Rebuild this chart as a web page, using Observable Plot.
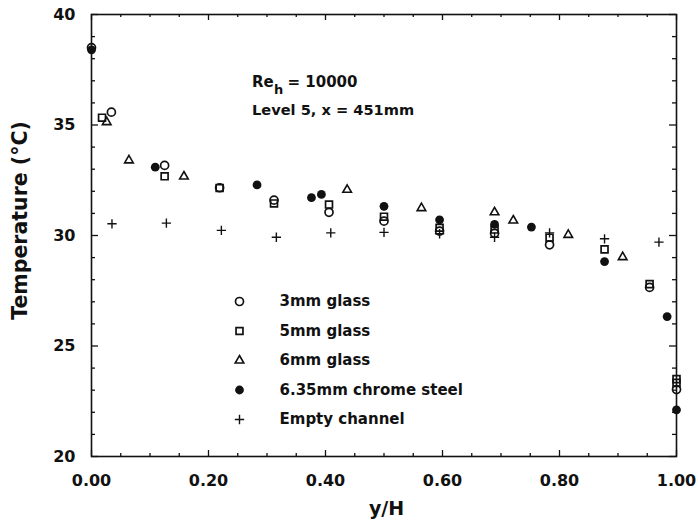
<!DOCTYPE html>
<html><head><meta charset="utf-8">
<script src="https://cdn.jsdelivr.net/npm/d3@7"></script>
<script src="https://cdn.jsdelivr.net/npm/@observablehq/plot@0.6"></script>
<style>body{margin:0;background:#fff} svg{display:block}</style>
</head><body><div id="chart"></div>
<script>
// ---- data (y/H, Temperature °C) ----
const glass3mm = [[0,38.5],[0.034,35.58],[0.125,33.17],[0.219,32.16],[0.312,31.6],[0.406,31.05],[0.50,30.65],[0.595,30.2],[0.689,30.1],[0.783,29.58],[0.954,27.65],[1.0,23.03]];
const glass5mm = [[0.018,35.33],[0.125,32.68],[0.219,32.15],[0.312,31.45],[0.406,31.4],[0.50,30.85],[0.595,30.35],[0.689,30.27],[0.783,29.9],[0.877,29.37],[0.954,27.8],[1.0,23.5],[1.0,23.33]];
const glass6mm = [[0.026,35.13],[0.064,33.4],[0.158,32.67],[0.437,32.07],[0.564,31.24],[0.689,31.05],[0.721,30.68],[0.815,30.03],[0.908,29.02]];
const chromeSteel = [[0,38.4],[0.109,33.09],[0.283,32.29],[0.376,31.71],[0.393,31.86],[0.50,31.32],[0.595,30.71],[0.689,30.5],[0.752,30.38],[0.877,28.82],[0.984,26.33],[1.0,22.11]];
const emptyChannel = [[0.035,30.53],[0.128,30.56],[0.222,30.23],[0.316,29.92],[0.409,30.12],[0.50,30.14],[0.595,30.08],[0.689,29.92],[0.783,30.12],[0.877,29.85],[0.97,29.7]];

const seriesNames = ["3mm glass","5mm glass","6mm glass","6.35mm chrome steel","Empty channel"];
const xMajor = [0,0.2,0.4,0.6,0.8,1.0];
const xTickLabels = ["0.00","0.20","0.40","0.60","0.80","1.00"];
const xMinor = [0.05,0.1,0.15,0.25,0.3,0.35,0.45,0.5,0.55,0.65,0.7,0.75,0.85,0.9,0.95];
const yMajor = [20,25,30,35,40];
const yTickLabels = ["20","25","30","35","40"];
const yMinor = [21,22,23,24,26,27,28,29,31,32,33,34,36,37,38,39];
const xTitle = "y/H";
const yTitle = "Temperature (°C)";
const noteRe = ["Re","h","= 10000"];
const noteLevel = "Level 5, x = 451mm";

const FONT = "DejaVu Sans";
const ink = "#111";
const toObj = a => a.map(([x,y]) => ({x,y}));

const W = 698, H = 522, ML = 91, MR = 22, MT = 14, MB = 66;
const innerW = W - ML - MR, innerH = H - MT - MB;

const styles = [
  {symbol:"circle", r:4.0, fill:"none", stroke:ink, strokeWidth:1.7},
  {symbol:"square", r:3.9, fill:"none", stroke:ink, strokeWidth:1.7},
  {symbol:"triangle", r:3.2, fill:"none", stroke:ink, strokeWidth:1.6},
  {symbol:"circle", r:4.4, fill:ink, stroke:"none"},
  {symbol:"plus", r:3.1, fill:"none", stroke:ink, strokeWidth:1.4}
];
const allSeries = [glass3mm, glass5mm, glass6mm, chromeSteel, emptyChannel];

// inward tick marks on all four sides
const tk = {stroke:ink, strokeWidth:1.3};
const tickMarks = [
  Plot.tickX(xMajor, {x:d=>d, insetTop: innerH - 6, ...tk}),
  Plot.tickX(xMinor, {x:d=>d, insetTop: innerH - 3, ...tk}),
  Plot.tickX(xMajor, {x:d=>d, insetBottom: innerH - 6, ...tk}),
  Plot.tickX(xMinor, {x:d=>d, insetBottom: innerH - 3, ...tk}),
  Plot.tickY(yMajor, {y:d=>d, insetRight: innerW - 7, ...tk}),
  Plot.tickY(yMinor, {y:d=>d, insetRight: innerW - 4, ...tk}),
  Plot.tickY(yMajor, {y:d=>d, insetLeft: innerW - 7, ...tk}),
  Plot.tickY(yMinor, {y:d=>d, insetLeft: innerW - 4, ...tk})
];

const labelAxes = [
  Plot.axisX(xMajor, {anchor:"bottom", tickSize:0, tickPadding:18.5, label:null, fill:ink,
    tickFormat: d => xTickLabels[xMajor.indexOf(d)], fontSize:16, fontWeight:"bold", fontFamily:FONT}),
  Plot.axisY(yMajor, {anchor:"left", tickSize:0, tickPadding:16, label:null, fill:ink,
    tickFormat: d => yTickLabels[yMajor.indexOf(d)], fontSize:16, fontWeight:"bold", fontFamily:FONT})
];

const dotMarks = allSeries.map((s,i) => Plot.dot(toObj(s), {x:"x", y:"y", ...styles[i]}));

const legendMarks = [];
seriesNames.forEach((name,i) => {
  legendMarks.push(Plot.dot([name], {frameAnchor:"top-left", dx:148, dy:287 + i*29.5, ...styles[i]}));
  legendMarks.push(Plot.text([name], {frameAnchor:"top-left", dx:188, dy:287 + i*29.5, text:d=>d,
    textAnchor:"start", lineAnchor:"middle", fontSize:15, fontWeight:"bold", fontFamily:FONT, fill:ink}));
});

const noteMarks = [
  Plot.text([noteRe[0]], {frameAnchor:"top-left", dx:160.5, dy:68, text:d=>d, textAnchor:"start", lineAnchor:"middle", fontSize:15, fontWeight:"bold", fontFamily:FONT, fill:ink}),
  Plot.text([noteRe[1]], {frameAnchor:"top-left", dx:182.5, dy:75, text:d=>d, textAnchor:"start", lineAnchor:"middle", fontSize:13, fontWeight:"bold", fontFamily:FONT, fill:ink}),
  Plot.text([noteRe[2]], {frameAnchor:"top-left", dx:196, dy:68, text:d=>d, textAnchor:"start", lineAnchor:"middle", fontSize:15, fontWeight:"bold", fontFamily:FONT, fill:ink}),
  Plot.text([noteLevel], {frameAnchor:"top-left", dx:160.5, dy:96.2, text:d=>d, textAnchor:"start", lineAnchor:"middle", fontSize:14.6, fontWeight:"bold", fontFamily:FONT, fill:ink})
];

const titleMarks = [
  Plot.text([xTitle], {frameAnchor:"bottom", dx:2.5, dy:52, text:d=>d, textAnchor:"middle", lineAnchor:"middle", fontSize:19, fontWeight:"bold", fontFamily:FONT, fill:ink}),
  Plot.text([yTitle], {frameAnchor:"left", dx:-71, dy:-15, rotate:-90, text:d=>d, textAnchor:"middle", lineAnchor:"middle", fontSize:20.5, fontWeight:"bold", fontFamily:FONT, fill:ink})
];

const chart = Plot.plot({
  width: W, height: H,
  marginLeft: ML, marginRight: MR, marginTop: MT, marginBottom: MB,
  style: {background:"#fff", color: ink, fontFamily: FONT},
  x: {domain:[0,1], axis:null},
  y: {domain:[20,40], axis:null},
  marks: [
    Plot.frame({stroke:ink, strokeWidth:1.6}),
    ...tickMarks,
    ...labelAxes,
    ...dotMarks,
    ...legendMarks,
    ...noteMarks,
    ...titleMarks
  ]
});
document.getElementById("chart").appendChild(chart);
</script>
</body></html>
